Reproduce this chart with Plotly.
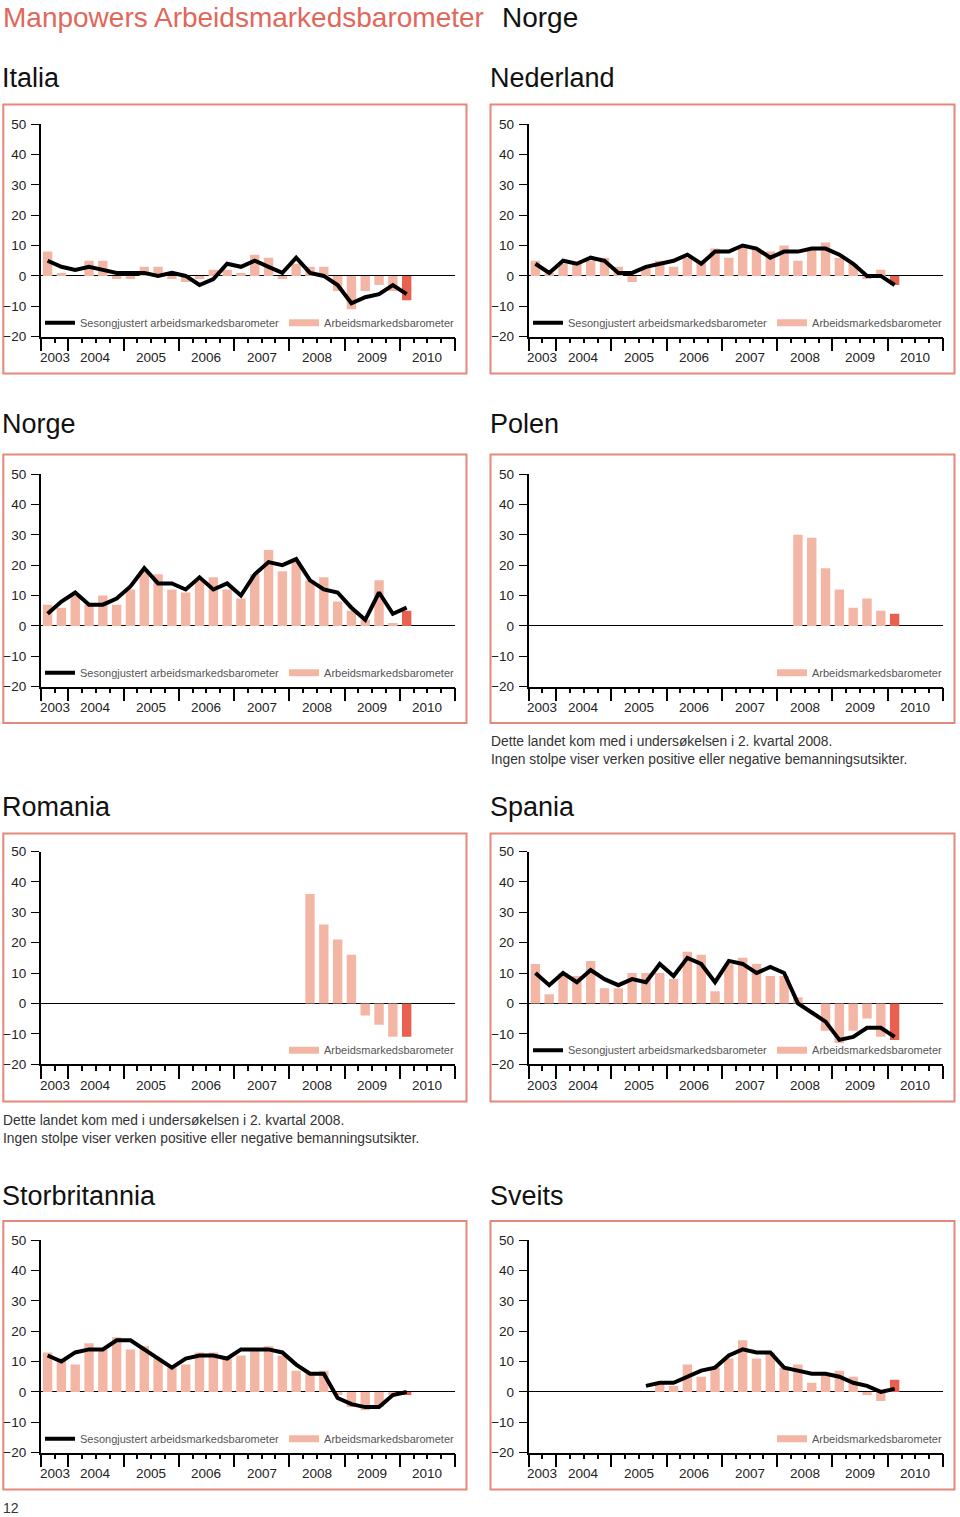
import plotly.graph_objects as go

# ---------------- data ----------------
years = [2003, 2004, 2005, 2006, 2007, 2008, 2009, 2010]
# quarters from 2003 K3 to 2010 K1
periods = [(2003, 3), (2003, 4)] + [(y, q) for y in range(2004, 2010) for q in (1, 2, 3, 4)] + [(2010, 1)]

italia_bar = [8, 1, 0, 5, 5, -1, -1, 3, 3, -1, -2, -1, 2, 2, 1, 7, 6, -1, 4, 3, 3, -5, -11, -5, -3, -5, -8]
italia_line = [5, 3, 2, 3, 2, 1, 1, 1, 0, 1, 0, -3, -1, 4, 3, 5, 3, 1, 6, 1, 0, -3, -9, -7, -6, -3, -6]

nederland_bar = [5, 1, 4, 4, 5, 6, 3, -2, 3, 5, 3, 6, 5, 9, 6, 10, 9, 8, 10, 5, 9, 11, 6, 4, -1, 2, -3]
nederland_line = [4, 1, 5, 4, 6, 5, 1, 1, 3, 4, 5, 7, 4, 8, 8, 10, 9, 6, 8, 8, 9, 9, 7, 4, 0, 0, -3]

norge_bar = [7, 6, 10, 7, 10, 7, 12, 18, 17, 12, 11, 15, 16, 12, 9, 17, 25, 18, 21, 15, 16, 8, 5, 2, 15, 1, 5]
norge_line = [4, 8, 11, 7, 7, 9, 13, 19, 14, 14, 12, 16, 12, 14, 10, 17, 21, 20, 22, 15, 12, 11, 6, 2, 11, 4, 6]

polen_bar = [None] * 19 + [30, 29, 19, 12, 6, 9, 5, 4]

romania_bar = [None] * 19 + [36, 26, 21, 16, -4, -7, -11, -11]

spania_bar = [13, 3, 10, 9, 14, 5, 5, 10, 10, 10, 8, 17, 16, 4, 13, 15, 13, 9, 9, 2, 0, -9, -13, -9, -5, -11, -12]
spania_line = [10, 6, 10, 7, 11, 8, 6, 8, 7, 13, 9, 15, 13, 7, 14, 13, 10, 12, 10, 0, -3, -6, -12, -11, -8, -8, -11]

storbritannia_bar = [13, 11, 9, 16, 14, 18, 14, 15, 11, 8, 9, 13, 13, 11, 12, 14, 15, 12, 7, 6, 7, -1, -5, -6, -5, -1, -1]
storbritannia_line = [12, 10, 13, 14, 14, 17, 17, 14, 11, 8, 11, 12, 12, 11, 14, 14, 14, 13, 9, 6, 6, -2, -4, -5, -5, -1, 0]

sveits_bar = [None] * 9 + [3, 2, 9, 5, 8, 11, 17, 11, 13, 8, 9, 3, 6, 7, 5, -1, -3, 4]
sveits_line = [None] * 8 + [2, 3, 3, 5, 7, 8, 12, 14, 13, 13, 8, 7, 6, 6, 5, 3, 2, 0, 1]

y_ticks = [-20, -10, 0, 10, 20, 30, 40, 50]

LINE_NAME = "Sesongjustert arbeidsmarkedsbarometer"
BAR_NAME = "Arbeidsmarkedsbarometer"
NOTE = ("Dette landet kom med i undersøkelsen i 2. kvartal 2008.<br>"
        "Ingen stolpe viser verken positive eller negative bemanningsutsikter.")

# ---------------- styling ----------------
W, H = 960, 1517
FONT = "Liberation Sans, Arial, Helvetica, sans-serif"
BAR_COL = "#F4B6A4"
BAR_LAST = "#E8604F"
FRAME_COL = "#E5877B"
TITLE_RED = "#E2675B"
TXT = "#222222"

col_x = {0: (40.7, 455.0), 1: (528.5, 943.0)}
frame_x = {0: (3.3, 466.5), 1: (490.5, 954.5)}
row_top = [124.0, 474.0, 851.5, 1240.0]
PLOT_H = 212.7
frame_y = [(104.5, 373.5), (454.5, 723.0), (833.5, 1101.5), (1221.0, 1489.5)]
title_y = [78, 424, 807, 1196]
title_x = {0: 0, 1: 488}

panels = [
    ("Italia", 0, 0, italia_bar, italia_line, True),
    ("Nederland", 0, 1, nederland_bar, nederland_line, True),
    ("Norge", 1, 0, norge_bar, norge_line, True),
    ("Polen", 1, 1, polen_bar, None, False),
    ("Romania", 2, 0, romania_bar, None, False),
    ("Spania", 2, 1, spania_bar, spania_line, True),
    ("Storbritannia", 3, 0, storbritannia_bar, storbritannia_line, True),
    ("Sveits", 3, 1, sveits_bar, sveits_line, False),
]

x_pos = [y + (q - 0.5) / 4 for (y, q) in periods]
x_start = periods[0][0] + (periods[0][1] - 1) / 4
x_end = years[-1] + 1
major_ticks = [x_start] + [y for y in years[1:]] + [x_end]
minor_ticks = [x_start + 0.25 * k for k in range(int((x_end - x_start) * 4) + 1)]
label_x = [(max(y, x_start) + y + 1) / 2 for y in years]


def px_x(v):
    return v / W


def px_y(v):
    return 1 - v / H


fig = go.Figure()
layout = dict(
    width=W, height=H, margin=dict(l=0, r=0, t=0, b=0),
    paper_bgcolor="white", plot_bgcolor="white",
    font=dict(family=FONT, color=TXT),
    bargap=0.3, barmode="overlay", showlegend=True,
)
shapes, annotations = [], []

for n, (name, r, c, bars, line, line_in_legend) in enumerate(panels, start=1):
    sfx = "" if n == 1 else str(n)
    xa, ya = "x" + sfx, "y" + sfx
    leg = "legend" + sfx
    x0, x1 = col_x[c]
    top = row_top[r]
    bot = top + PLOT_H

    layout["xaxis" + sfx] = dict(
        domain=[px_x(x0), px_x(x1)], range=[x_start, x_end], anchor=ya,
        tickmode="array", tickvals=major_ticks, ticks="outside", ticklen=13,
        tickwidth=1.5, tickcolor="black", showticklabels=False,
        showline=True, linecolor="black", linewidth=1.5, showgrid=False, zeroline=False,
        minor=dict(tickmode="array", tickvals=minor_ticks, ticks="outside", ticklen=5,
                   tickwidth=1.5, tickcolor="black", showgrid=False),
        fixedrange=True, automargin=False,
    )
    layout["yaxis" + sfx] = dict(
        domain=[px_y(bot), px_y(top)], range=[y_ticks[0], y_ticks[-1]], anchor=xa,
        tickmode="array", tickvals=y_ticks, ticks="outside", ticklen=8, tickwidth=1.3,
        tickcolor="black", showline=True, linecolor="black", linewidth=1.5,
        showgrid=False, zeroline=True, zerolinecolor="black", zerolinewidth=1.3,
        tickfont=dict(size=13.5, color=TXT), ticklabelstandoff=2, fixedrange=True,
        automargin=False,
    )

    colors = [BAR_COL] * (len(bars) - 1) + [BAR_LAST]
    fig.add_trace(go.Bar(x=x_pos, y=bars, marker=dict(color=colors, line=dict(width=0)),
                         width=0.17, showlegend=False, xaxis=xa, yaxis=ya, hoverinfo="skip"))
    if line is not None:
        fig.add_trace(go.Scatter(x=x_pos, y=line, mode="lines", name=LINE_NAME,
                                 line=dict(color="black", width=4), connectgaps=False,
                                 showlegend=line_in_legend, legend=leg,
                                 xaxis=xa, yaxis=ya, hoverinfo="skip"))
    # legend entry for the bars (drawn as a short thick swatch)
    fig.add_trace(go.Scatter(x=[None], y=[None], mode="lines", name=BAR_NAME,
                             line=dict(color=BAR_COL, width=7), legend=leg,
                             xaxis=xa, yaxis=ya, hoverinfo="skip"))

    layout[leg] = dict(
        orientation="h", x=px_x(x1 + 4), xanchor="right",
        y=px_y(top + 198.7), yanchor="middle", bgcolor="rgba(0,0,0,0)",
        font=dict(size=11, color="#555555", family=FONT), itemwidth=30,
        tracegroupgap=0, traceorder="normal",
    )

    # year labels
    for yv, lx in zip(years, label_x):
        annotations.append(dict(x=lx, y=0, xref=xa, yref=ya + " domain", text=str(yv),
                                showarrow=False, yanchor="middle", yshift=-21,
                                font=dict(size=13.5, color=TXT)))

    # frame
    fx0, fx1 = frame_x[c]
    fy0, fy1 = frame_y[r]
    shapes.append(dict(type="rect", xref="paper", yref="paper",
                       x0=px_x(fx0), x1=px_x(fx1), y0=px_y(fy1), y1=px_y(fy0),
                       line=dict(color=FRAME_COL, width=2), fillcolor="rgba(0,0,0,0)",
                       layer="below"))

    # panel title
    annotations.append(dict(x=px_x(title_x[c]), y=px_y(title_y[r]), xref="paper", yref="paper",
                            text=name, showarrow=False, xanchor="left", yanchor="middle",
                            font=dict(size=27, color="#111111")))

# notes for Polen and Romania
annotations.append(dict(x=px_x(489), y=px_y(750.5), xref="paper", yref="paper", text=NOTE,
                        showarrow=False, xanchor="left", yanchor="middle", align="left",
                        font=dict(size=13.8, color="#333333")))
annotations.append(dict(x=px_x(1), y=px_y(1129.5), xref="paper", yref="paper", text=NOTE,
                        showarrow=False, xanchor="left", yanchor="middle", align="left",
                        font=dict(size=13.8, color="#333333")))

# header
annotations.append(dict(x=px_x(1), y=1, xref="paper", yref="paper",
                        text="Manpowers Arbeidsmarkedsbarometer", showarrow=False,
                        xanchor="left", yanchor="top", font=dict(size=28, color=TITLE_RED)))
annotations.append(dict(x=px_x(500), y=1, xref="paper", yref="paper",
                        text="Norge", showarrow=False,
                        xanchor="left", yanchor="top", font=dict(size=28, color="#111111")))
# page number
annotations.append(dict(x=px_x(1), y=px_y(1508), xref="paper", yref="paper", text="12",
                        showarrow=False, xanchor="left", yanchor="middle",
                        font=dict(size=14, color="#333333")))

layout["shapes"] = shapes
layout["annotations"] = annotations
fig.update_layout(**layout)

fig.write_html(
    "out.html", include_plotlyjs=True, config={"displayModeBar": False},
    post_script="document.body.style.margin='0';",
)
